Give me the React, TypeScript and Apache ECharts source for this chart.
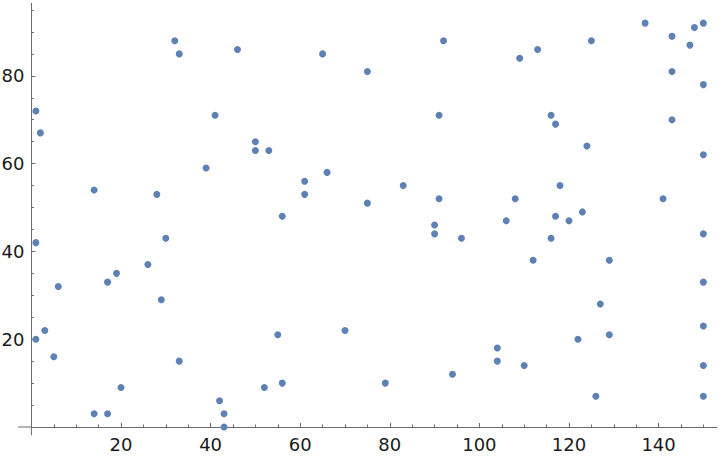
import React, { useEffect, useRef } from "react";
import * as echarts from "echarts";

const xValues = [
  1, 2, 32, 33, 46, 41, 65, 75, 50, 50, 53, 92, 109, 113, 91, 116, 117, 125, 137, 143,
  147, 148, 150, 143, 150, 143, 124, 150, 14, 28, 39, 1, 30, 26, 19, 17, 6, 29, 61, 66,
  61, 75, 56, 83, 91, 90, 90, 96, 106, 108, 112, 116, 118, 117, 120, 123, 141, 150, 129, 150,
  127, 3, 1, 5, 33, 20, 14, 17, 55, 70, 52, 56, 42, 43, 43, 79, 94, 104, 104, 110,
  122, 129, 126, 150, 150, 150,
];
const yValues = [
  72, 67, 88, 85, 86, 71, 85, 81, 65, 63, 63, 88, 84, 86, 71, 71, 69, 88, 92, 89,
  87, 91, 92, 81, 78, 70, 64, 62, 54, 53, 59, 42, 43, 37, 35, 33, 32, 29, 56, 58,
  53, 51, 48, 55, 52, 46, 44, 43, 47, 52, 38, 43, 55, 48, 47, 49, 52, 44, 38, 33,
  28, 22, 20, 16, 15, 9, 3, 3, 21, 22, 9, 10, 6, 3, 0, 10, 12, 18, 15, 14,
  20, 21, 7, 23, 14, 7,
];

const xMajorTicks = [20, 40, 60, 80, 100, 120, 140];
const xMinorTicks = [5, 10, 15, 25, 30, 35, 45, 50, 55, 65, 70, 75, 85, 90, 95, 105, 110, 115, 125, 130, 135, 145, 150];
const yMajorTicks = [20, 40, 60, 80];
const yMinorTicks = [5, 10, 15, 25, 30, 35, 45, 50, 55, 65, 70, 75, 85, 90, 95];

const AXIS_COLOR = "#6b6b6b";
const LABEL_COLOR = "#1a1a1a";
const FONT = "DejaVu Sans";

export default function App() {
  const ref = useRef<HTMLDivElement>(null);
  useEffect(() => {
    if (!ref.current) return;
    const chart = echarts.init(ref.current, undefined, { renderer: "svg" });
    const xRange = { min: 0, max: 153 };
    const yRange = { min: 0, max: 96.5 };
    const baseX = {
      type: "value" as const,
      position: "bottom" as const,
      ...xRange,
      splitLine: { show: false },
      axisLine: { show: true, onZero: false, lineStyle: { color: AXIS_COLOR, width: 1 } },
    };
    const baseY = {
      type: "value" as const,
      position: "left" as const,
      ...yRange,
      splitLine: { show: false },
      axisLine: { show: true, onZero: false, lineStyle: { color: AXIS_COLOR, width: 1 } },
    };
    chart.setOption({
      animation: false,
      grid: {
        left: 31.4,
        right: 3.2,
        top: 3.4,
        bottom: 31,
        containLabel: false,
        outerBoundsMode: "none",
      },
      xAxis: [
        {
          ...baseX,
          axisTick: { show: true, inside: true, length: 4, customValues: xMajorTicks, lineStyle: { color: AXIS_COLOR } },
          axisLabel: {
            show: true,
            customValues: xMajorTicks,
            color: LABEL_COLOR,
            fontFamily: FONT,
            fontSize: 18,
            margin: 8,
          },
        },
        {
          ...baseX,
          axisLine: { show: false },
          axisTick: { show: true, inside: true, length: 2.5, customValues: xMinorTicks, lineStyle: { color: AXIS_COLOR } },
          axisLabel: { show: false },
        },
      ],
      yAxis: [
        {
          ...baseY,
          axisTick: { show: true, inside: true, length: 4, customValues: yMajorTicks, lineStyle: { color: AXIS_COLOR } },
          axisLabel: {
            show: true,
            customValues: yMajorTicks,
            color: LABEL_COLOR,
            fontFamily: FONT,
            fontSize: 18,
            margin: 7,
          },
        },
        {
          ...baseY,
          axisLine: { show: false },
          axisTick: { show: true, inside: true, length: 2.5, customValues: yMinorTicks, lineStyle: { color: AXIS_COLOR } },
          axisLabel: { show: false },
        },
      ],
      series: [
        {
          type: "scatter",
          xAxisIndex: 0,
          yAxisIndex: 0,
          symbol: "circle",
          symbolSize: 7,
          clip: false,
          itemStyle: { color: "#5E81B5", opacity: 1 },
          data: xValues.map((x, i) => [x, yValues[i]]),
        },
      ],
    });
    const origin = chart.convertToPixel({ xAxisIndex: 0, yAxisIndex: 0 }, [0, 0]) as number[];
    if (origin) {
      const [ox, oy] = origin;
      chart.setOption({
        graphic: [
          {
            type: "line",
            shape: { x1: ox - 13.4, y1: oy, x2: ox, y2: oy },
            style: { stroke: AXIS_COLOR, lineWidth: 1 },
            silent: true,
          },
          {
            type: "line",
            shape: { x1: ox, y1: oy, x2: ox, y2: oy + 8.3 },
            style: { stroke: AXIS_COLOR, lineWidth: 1 },
            silent: true,
          },
        ],
      });
    }
    return () => chart.dispose();
  }, []);
  return (
    <div
      ref={ref}
      style={{ position: "fixed", left: 0, top: 0, width: 720, height: 458, background: "#fff" }}
    />
  );
}
